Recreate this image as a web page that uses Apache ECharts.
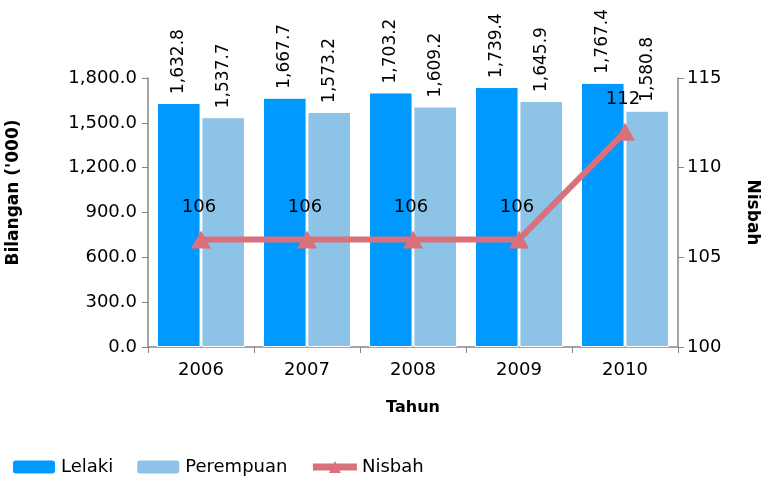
<!DOCTYPE html>
<html>
<head>
<meta charset="utf-8">
<script src="https://cdn.jsdelivr.net/npm/echarts@6/dist/echarts.min.js"></script>
<style>
  html, body { margin: 0; padding: 0; background: #fff; }
  #chart { width: 761px; height: 480px; }
</style>
</head>
<body>
<div id="chart"></div>
<script>
// data
const years = ['2006', '2007', '2008', '2009', '2010']
const lelaki = [1632.8, 1667.7, 1703.2, 1739.4, 1767.4]
const perempuan = [1537.7, 1573.2, 1609.2, 1645.9, 1580.8]
const nisbah = [106, 106, 106, 106, 112]

const font = "'DejaVu Sans', sans-serif"
const axisGray = '#868686'
const lineColor = '#D9707A'
const fmt = v => v.toLocaleString('en-US', {minimumFractionDigits: 1, maximumFractionDigits: 1})

const myChart = echarts.init(document.getElementById('chart'))

const barLabel = {
  show: true,
  position: 'top',
  rotate: 90,
  align: 'left',
  verticalAlign: 'middle',
  distance: 9,
  color: '#000',
  fontSize: 17,
  fontFamily: font,
  formatter: p => fmt(p.value)
}

myChart.setOption({
  backgroundColor: '#fff',
  textStyle: { fontFamily: font },
  grid: { left: 148, right: 83, top: 78, bottom: 133, outerBoundsMode: 'none' },
  legend: {
    left: 6,
    bottom: -1,
    itemWidth: 44,
    itemHeight: 15,
    itemGap: 22,
    textStyle: { fontSize: 18, color: '#000', fontFamily: font },
    data: ['Lelaki', 'Perempuan', {
      name: 'Nisbah',
      lineStyle: { width: 7 }
    }]
  },
  xAxis: {
    type: 'category',
    data: years,
    name: 'Tahun',
    nameLocation: 'middle',
    nameGap: 53,
    nameTextStyle: { fontWeight: 'bold', fontSize: 16, color: '#000', fontFamily: font },
    axisLine: { lineStyle: { color: axisGray, width: 1.5 } },
    axisTick: { show: true, length: 6, lineStyle: { color: axisGray } },
    axisLabel: { color: '#000', fontSize: 18, margin: 14 }
  },
  yAxis: [{
    type: 'value',
    min: 0,
    max: 1800,
    interval: 300,
    name: "Bilangan ('000)",
    nameLocation: 'middle',
    nameGap: 126,
    nameRotate: 90,
    nameTextStyle: { fontWeight: 'bold', fontSize: 17, color: '#000', fontFamily: font, padding: [0, 0, 0, 40] },
    axisLine: { show: true, lineStyle: { color: axisGray, width: 1.5 } },
    axisTick: { show: true, length: 6, lineStyle: { color: axisGray } },
    splitLine: { show: false },
    axisLabel: { color: '#000', fontSize: 18, margin: 11, formatter: v => fmt(v) }
  }, {
    type: 'value',
    min: 100,
    max: 115,
    interval: 5,
    name: 'Nisbah',
    nameLocation: 'middle',
    nameGap: 66,
    nameRotate: -90,
    nameTextStyle: { fontWeight: 'bold', fontSize: 17, color: '#000', fontFamily: font },
    axisLine: { show: true, lineStyle: { color: axisGray, width: 1.5 } },
    axisTick: { show: true, length: 6, lineStyle: { color: axisGray } },
    splitLine: { show: false },
    axisLabel: { color: '#000', fontSize: 18, margin: 9 }
  }],
  series: [{
    name: 'Lelaki',
    type: 'bar',
    barGap: '2%',
    barCategoryGap: '17%',
    itemStyle: { color: '#0099FF', borderColor: '#fff', borderWidth: 1 },
    label: barLabel,
    data: lelaki
  }, {
    name: 'Perempuan',
    type: 'bar',
    itemStyle: { color: '#8DC3E6', borderColor: '#fff', borderWidth: 1 },
    label: barLabel,
    data: perempuan
  }, {
    name: 'Nisbah',
    type: 'line',
    yAxisIndex: 1,
    symbol: 'triangle',
    symbolSize: [20, 18],
    lineStyle: { color: lineColor, width: 6 },
    itemStyle: { color: lineColor },
    label: {
      show: true,
      position: 'top',
      distance: 14,
      offset: [-2, 0],
      color: '#000',
      fontSize: 18,
      fontFamily: font
    },
    z: 5,
    data: nisbah
  }]
})
</script>
</body>
</html>
